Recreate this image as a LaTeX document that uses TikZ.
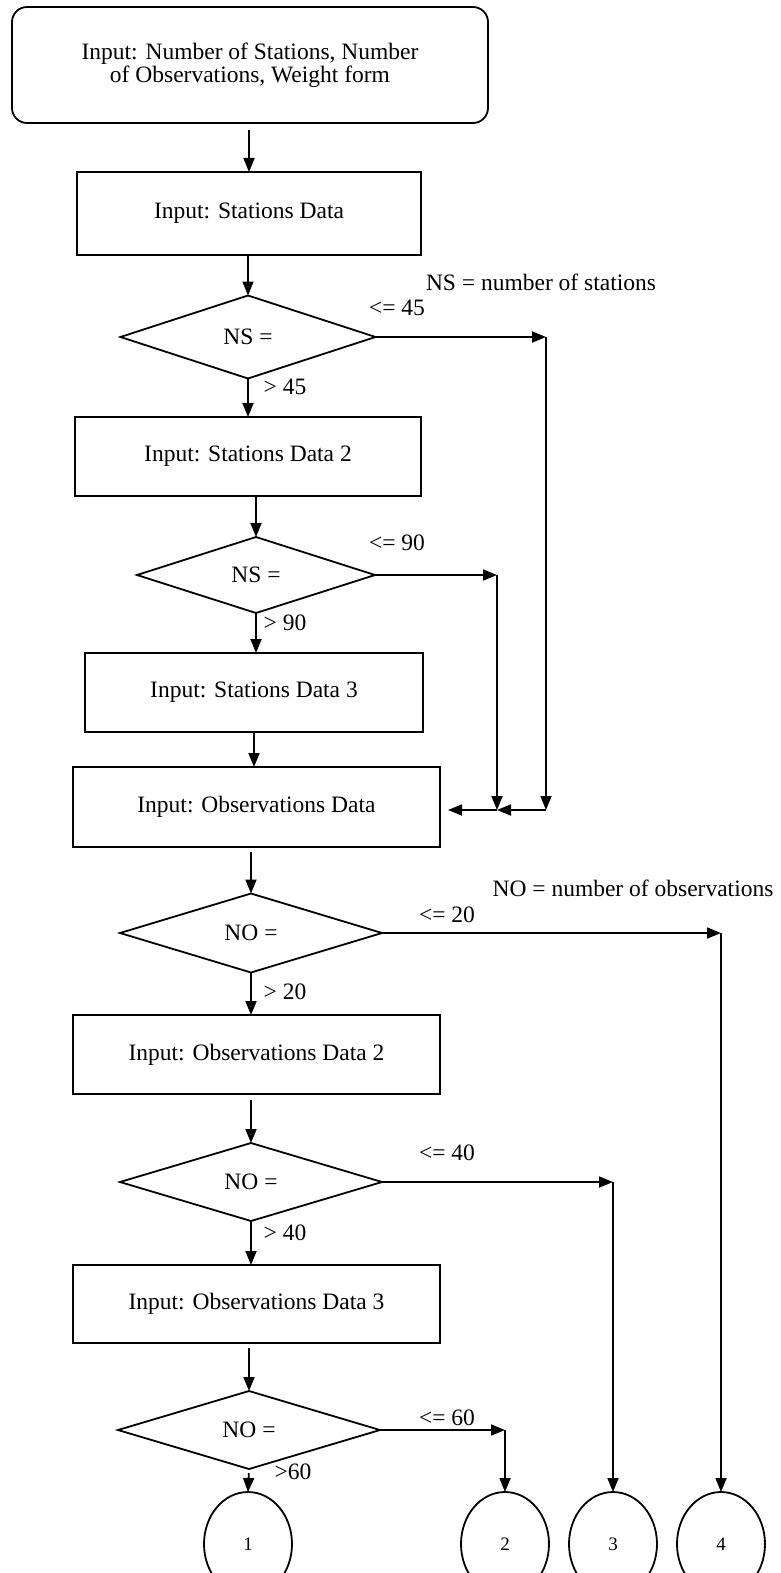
\documentclass[tikz,border=0pt]{standalone}
\usepackage{fontspec}
\setmainfont{Liberation Serif}
\usepackage{tikz}
\usetikzlibrary{shapes.geometric}
\usetikzlibrary{arrows.meta}

\begin{document}
\begin{tikzpicture}[x=1pt, y=-1pt, line width=1.8pt,
		>={Triangle[length=14pt,width=11pt]},
		every node/.style={font=\fontsize{23.5}{27}\selectfont, outer sep=0pt},
		startbox/.style={draw, rectangle, rounded corners=15pt, align=center, font=\fontsize{23.5}{21}\selectfont},
		inbox/.style={draw, rectangle, inner sep=0pt},
		decide/.style={draw, diamond, shape aspect=3, inner sep=0pt},
		pagelink/.style={draw, ellipse, minimum width=88pt, minimum height=104pt, inner sep=0pt, font=\fontsize{19}{22}\selectfont}]
			\useasboundingbox (0,0) rectangle (780,1573);
			\clip (0,0) rectangle (780,1573);

			% Stations part
			\node[startbox, minimum width=476, minimum height=116] (start) at (250,65) {Input: Number of Stations, Number\\of Observations, Weight form};
			\node[inbox, minimum width=344, minimum height=83] (stations) at (249,213.5) {Input: Stations Data};
			\node[decide, minimum width=255, minimum height=83] (ns1) at (248,337) {NS =};
			\node[inbox, minimum width=346, minimum height=79] (stations2) at (248,456.5) {Input: Stations Data 2};
			\node[decide, minimum width=238, minimum height=76] (ns2) at (256,575) {NS =};
			\node[inbox, minimum width=338, minimum height=79] (stations3) at (254,692.5) {Input: Stations Data 3};

			% Observations part
			\node[inbox, minimum width=367, minimum height=80] (obs) at (256.5,807) {Input: Observations Data};
			\node[decide, minimum width=262, minimum height=79] (no1) at (251,933) {NO =};
			\node[inbox, minimum width=367, minimum height=79] (obs2) at (256.5,1054.5) {Input: Observations Data 2};
			\node[decide, minimum width=262, minimum height=78] (no2) at (251,1182) {NO =};
			\node[inbox, minimum width=367, minimum height=78] (obs3) at (256.5,1304) {Input: Observations Data 3};
			\node[decide, minimum width=262, minimum height=78] (no3) at (249,1430) {NO =};

			% Off-page connectors
			\foreach \k/\x in {1/248, 2/505, 3/613, 4/721}
				\node[pagelink] (out\k) at (\x,1544) {\k};

			% Main flow
			\draw[->, shorten <=7pt] (start.south -| stations) -- (stations.north);
			\draw[->] (stations.south -| ns1) -- (ns1.north);
			\draw[->] (ns1.south) -- (ns1.south |- stations2.north);
			\draw[->] (stations2.south -| ns2) -- (ns2.north);
			\draw[->] (ns2.south) -- (ns2.south |- stations3.north);
			\draw[->] (stations3.south) -- (stations3.south |- obs.north);
			\draw[->, shorten <=5pt] (obs.south -| no1) -- (no1.north);
			\draw[->] (no1.south) -- (no1.south |- obs2.north);
			\draw[->, shorten <=6pt] (obs2.south -| no2) -- (no2.north);
			\draw[->] (no2.south) -- (no2.south |- obs3.north);
			\draw[->, shorten <=5pt] (obs3.south -| no3) -- (no3.north);
			\draw[->, shorten <=4pt] (no3.south) -- (out1.north);

			% NS branches back to the observations input
			\coordinate (ns1r) at (546,337);
			\coordinate (ns1d) at (546,810);
			\coordinate (ns2r) at (497,575);
			\coordinate (ns2d) at (497,810);
			\coordinate (obsin) at (448,810);
			\draw[->] (ns1.east) -- (ns1r);
			\draw[->] (ns1r) -- (ns1d);
			\draw[->] (ns1d) -- (ns2d);
			\draw[->] (ns2.east) -- (ns2r);
			\draw[->] (ns2r) -- (ns2d);
			\draw[->] (ns2d) -- (obsin);

			% NO branches down to the connectors
			\coordinate (no1r) at (out4 |- no1.east);
			\coordinate (no2r) at (out3 |- no2.east);
			\coordinate (no3r) at (out2 |- no3.east);
			\draw[->] (no1.east) -- (no1r);
			\draw[->] (no1r) -- (out4.north);
			\draw[->] (no2.east) -- (no2r);
			\draw[->] (no2r) -- (out3.north);
			\draw[->] (no3.east) -- (no3r);
			\draw[->] (no3r) -- (out2.north);

			% Branch labels and notes
			\node (le45) at (397,308) {<= 45};
			\node (gt45) at (285,387) {> 45};
			\node (le90) at (397,543) {<= 90};
			\node (gt90) at (285,623) {> 90};
			\node (le20) at (447,915) {<= 20};
			\node (gt20) at (285,992) {> 20};
			\node (le40) at (447,1153) {<= 40};
			\node (gt40) at (285,1233) {> 40};
			\node (le60) at (447,1418) {<= 60};
			\node (gt60) at (293,1472) {>60};
			\node (nsnote) at (541,282) {NS = number of stations};
			\node (nonote) at (633,888) {NO = number of observations};
		\end{tikzpicture}
\end{document}
